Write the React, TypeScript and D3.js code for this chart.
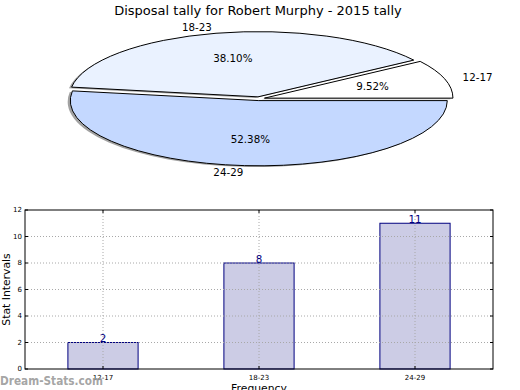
import React from "react";
import * as d3 from "d3";

const title = "Disposal tally for Robert Murphy - 2015 tally";
const categories = ["12-17", "18-23", "24-29"];
const counts = [2, 8, 11];
const pieColors = ["#ffffff", "#eaf2ff", "#c4d8ff"];
const yTicks = [0, 2, 4, 6, 8, 10, 12];

const W = 520;
const H = 390;
const FONT = "DejaVu Sans, sans-serif";

export default function App() {
  // ----- pie -----
  const R = 188.5;
  const k = 0.346;
  const cx = 259.2;
  const cy = 98.7;
  const explode = 5.5;
  const total = d3.sum(counts);
  const pie = d3
    .pie<number>()
    .sort(null)
    .startAngle(Math.PI / 2)
    .endAngle(Math.PI / 2 - 2 * Math.PI)(counts);
  const arc = d3.arc<any>().innerRadius(0).outerRadius(R);

  const slices = pie.map((p, i) => {
    const m = (p.startAngle + p.endAngle) / 2;
    const ox = cx + explode * Math.sin(m);
    const oy = cy - explode * Math.cos(m) * k;
    const dx = Math.sin(m);
    const dy = -Math.cos(m) * k;
    return {
      p,
      i,
      ox,
      oy,
      lx: ox + 1.1 * R * dx,
      ly: oy + 1.1 * R * dy,
      px: ox + 0.6 * R * dx,
      py: oy + 0.6 * R * dy,
      anchor: dx >= 0 ? "start" : "end",
      pct: ((p.value / total) * 100).toFixed(2) + "%",
    };
  });

  // ----- bars -----
  const left = 25,
    right = 493,
    top = 210,
    bottom = 369;
  const x = d3
    .scaleBand()
    .domain(categories)
    .range([left, right])
    .paddingInner(0)
    .paddingOuter(0);
  const bw = x.bandwidth() * 0.45;
  const y = d3.scaleLinear().domain([0, 12]).range([bottom, top]);
  const navy = "#000080";

  return (
    <svg
      width={W}
      height={H}
      style={{ position: "absolute", left: 0, top: 0, background: "#fff" }}
      fontFamily={FONT}
    >
      <text x={258} y={15} textAnchor="middle" fontSize={13} fill="#000">
        {title}
      </text>

      {/* shadows */}
      {slices.map((s) => (
        <path
          key={"sh" + s.i}
          d={arc(s.p) as string}
          transform={`translate(${s.ox - 2.6},${s.oy + 1.2}) scale(1,${k})`}
          fill="#444"
          fillOpacity={0.5}
          stroke="none"
        />
      ))}
      {slices.map((s) => (
        <path
          key={"w" + s.i}
          d={arc(s.p) as string}
          transform={`translate(${s.ox},${s.oy}) scale(1,${k})`}
          fill={pieColors[s.i]}
          stroke="#000"
          strokeWidth={1}
          vectorEffect="non-scaling-stroke"
          strokeLinejoin="miter"
        />
      ))}
      {slices.map((s) => (
        <g key={"t" + s.i} fontSize={10.3}>
          <text x={s.lx} y={s.ly} dy="0.35em" textAnchor={s.anchor}>
            {categories[s.i]}
          </text>
          <text x={s.px} y={s.py} dy="0.35em" textAnchor="middle">
            {s.pct}
          </text>
        </g>
      ))}

      {/* bar chart */}
      {categories.map((c, i) => (
        <rect
          key={"b" + c}
          x={(x(c) as number) + x.bandwidth() / 2 - bw / 2}
          y={y(counts[i])}
          width={bw}
          height={bottom - y(counts[i])}
          fill="#ccccE5"
          stroke={navy}
          strokeWidth={1}
        />
      ))}
      {/* grid */}
      {yTicks.slice(1, -1).map((t) => (
        <line
          key={"gy" + t}
          x1={left}
          x2={right}
          y1={y(t)}
          y2={y(t)}
          stroke="#a8a8a8"
          strokeWidth={1}
          strokeDasharray="1,2"
        />
      ))}
      {categories.map((c) => {
        const cxp = (x(c) as number) + x.bandwidth() / 2;
        return (
          <line
            key={"gx" + c}
            x1={cxp}
            x2={cxp}
            y1={top}
            y2={bottom}
            stroke="#a8a8a8"
            strokeWidth={1}
            strokeDasharray="1,2"
          />
        );
      })}
      {/* ticks */}
      {yTicks.map((t) => (
        <g key={"ty" + t}>
          <line x1={left} x2={left + 3} y1={y(t)} y2={y(t)} stroke="#000" />
          <line x1={right} x2={right - 3} y1={y(t)} y2={y(t)} stroke="#000" />
          <text x={left - 3} y={y(t)} dy="0.35em" textAnchor="end" fontSize={7}>
            {t}
          </text>
        </g>
      ))}
      {categories.map((c) => {
        const cxp = (x(c) as number) + x.bandwidth() / 2;
        return (
          <g key={"tx" + c}>
            <line x1={cxp} x2={cxp} y1={bottom} y2={bottom - 3} stroke="#000" />
            <line x1={cxp} x2={cxp} y1={top} y2={top + 3} stroke="#000" />
            <text x={cxp} y={bottom + 11} textAnchor="middle" fontSize={7}>
              {c}
            </text>
          </g>
        );
      })}
      <rect
        x={left}
        y={top}
        width={right - left}
        height={bottom - top}
        fill="none"
        stroke="#000"
        strokeWidth={1}
      />
      {categories.map((c, i) => (
        <text
          key={"v" + c}
          x={(x(c) as number) + x.bandwidth() / 2}
          y={y(counts[i]) - 0.5}
          textAnchor="middle"
          fontSize={10.3}
          fill={navy}
        >
          {counts[i]}
        </text>
      ))}
      <text
        transform={`translate(${10},${(top + bottom) / 2}) rotate(-90)`}
        textAnchor="middle"
        fontSize={10.8}
      >
        Stat Intervals
      </text>
      <text x={(left + right) / 2} y={392} textAnchor="middle" fontSize={10.8}>
        Frequency
      </text>
      <text
        x={0}
        y={385}
        fontSize={11.5}
        fontWeight="bold"
        fill="#9a9a9a"
        fillOpacity={0.9}
        textLength={103}
        lengthAdjust="spacingAndGlyphs"
      >
        Dream-Stats.com
      </text>
    </svg>
  );
}
